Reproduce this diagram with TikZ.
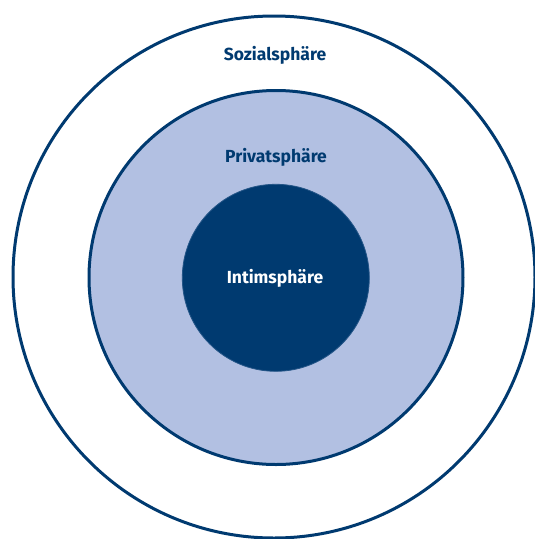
\documentclass[tikz,border=0pt]{standalone}
\usepackage{fontspec}
\setmainfont{Fira Sans}
\definecolor{darkblue}{RGB}{0,58,112}
\definecolor{lightblue}{RGB}{178,192,226}
\begin{document}
\begin{tikzpicture}[x=1pt,y=-1pt,
  ring/.style={circle, draw=darkblue, line width=3pt, inner sep=0pt},
  lbl/.style={font=\fontsize{17.5}{20}\selectfont\bfseries, inner sep=0pt}]
\useasboundingbox (0,0) rectangle (535,539);
\fill[white] (0,0) rectangle (535,539);
\node[ring, minimum size=522pt] (soz) at (274,277) {};
\node[ring, fill=lightblue, minimum size=374pt] (priv) at (276,277.5) {};
\node[circle, draw=darkblue!80!lightblue, line width=0.8pt, fill=darkblue, inner sep=0pt, minimum size=187pt] (intim) at (275.8,277.8) {};
\node[lbl, text=darkblue] (tsoz) at (275,55) {Sozialsphäre};
\node[lbl, text=darkblue] (tpriv) at (276,157) {Privatsphäre};
\node[lbl, text=white] (tintim) at (275,278) {Intimsphäre};
\end{tikzpicture}
\end{document}
